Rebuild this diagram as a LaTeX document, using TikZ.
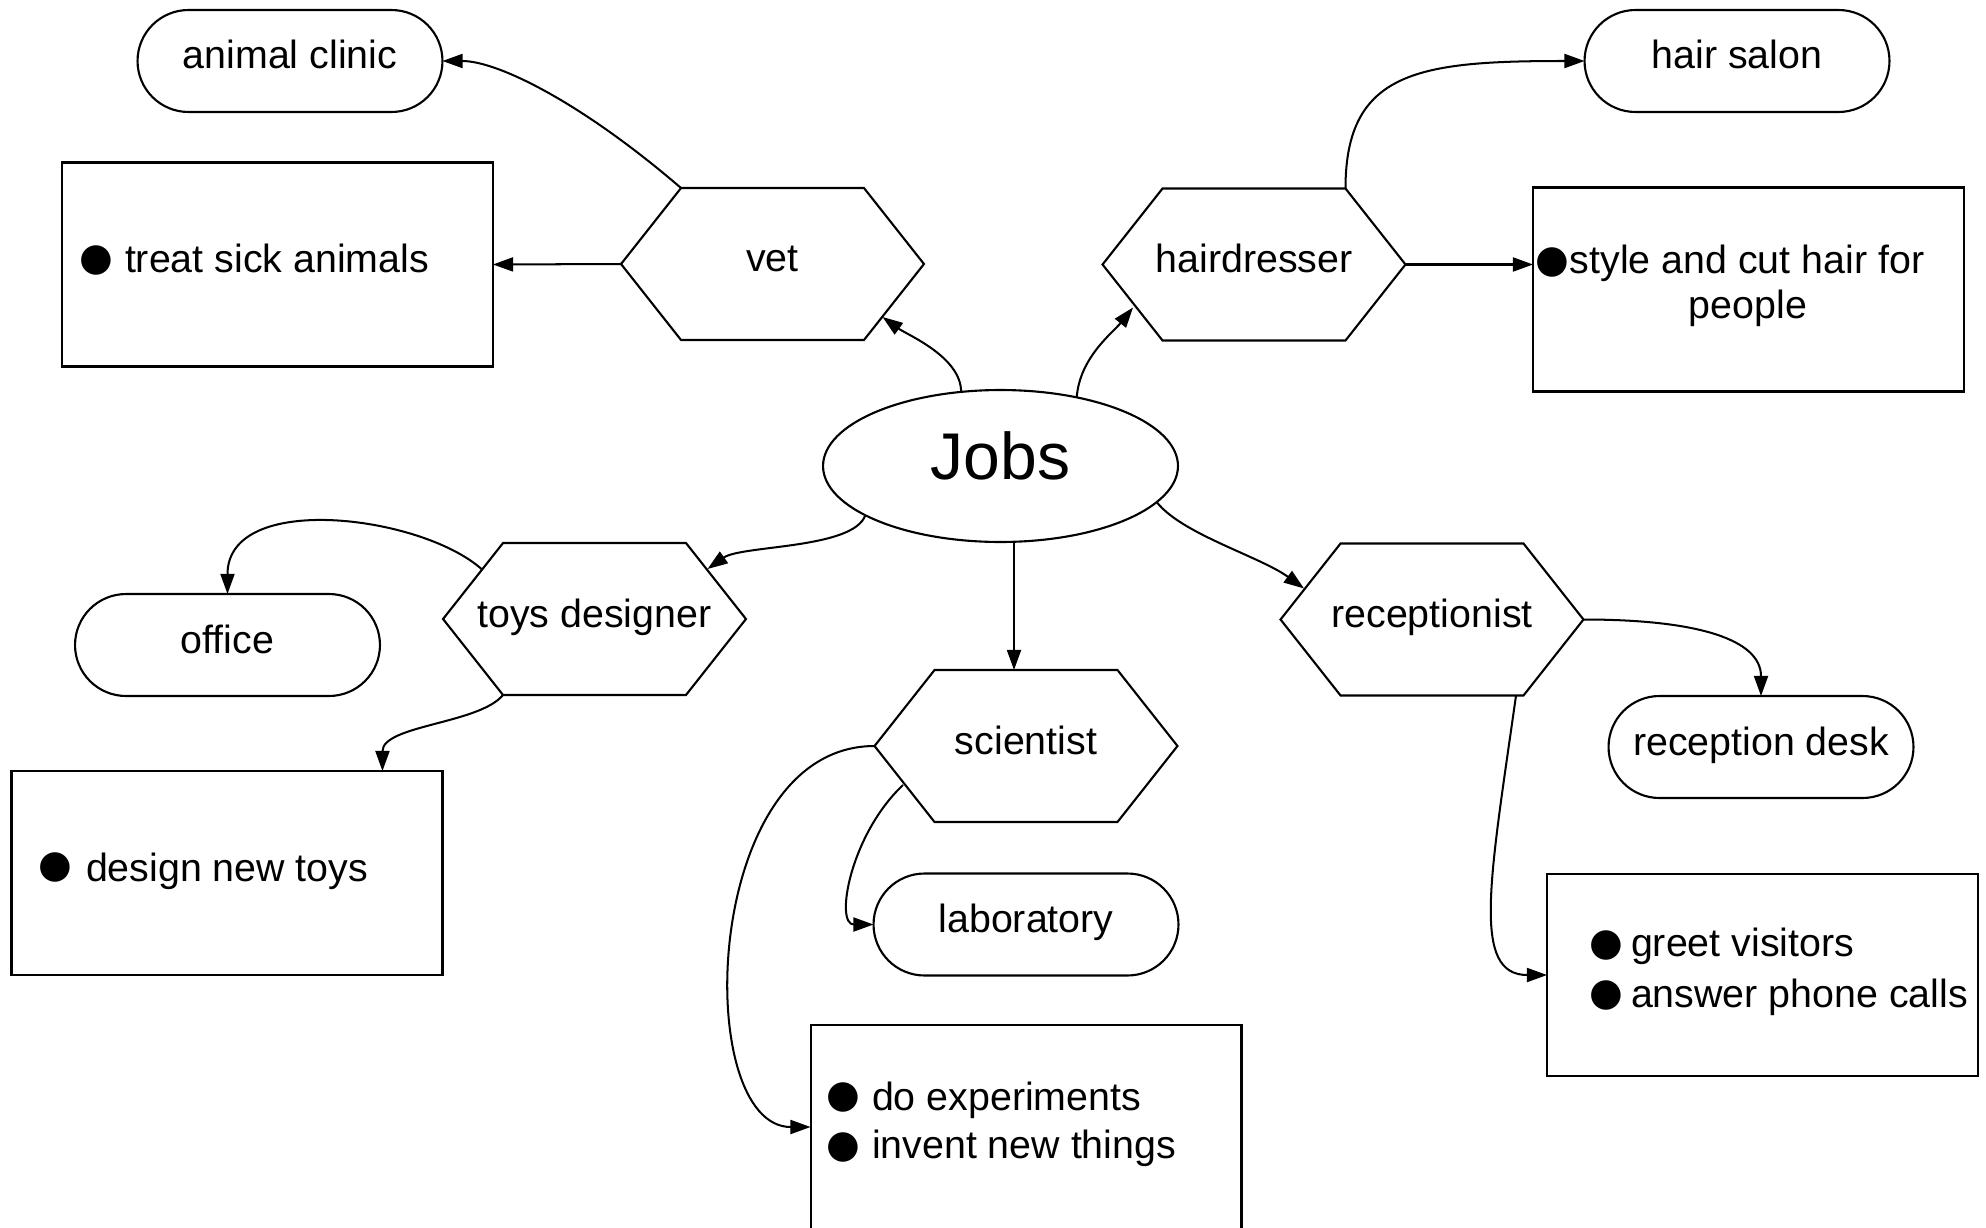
\documentclass[tikz,border=0pt]{standalone}
\usepackage{fontspec}
\setmainfont{Liberation Sans}
\newfontfamily\bulfont{DejaVu Sans}
\usetikzlibrary{arrows.meta,calc,shapes.geometric}
\newcommand{\hexdraw}[1]{\draw[line width=1.2pt] (#1.west) -- ([xshift=1.2cm]#1.north west) -- ([xshift=-1.2cm]#1.north east) -- (#1.east) -- ([xshift=-1.2cm]#1.south east) -- ([xshift=1.2cm]#1.south west) -- cycle;}
\begin{document}
\begin{tikzpicture}[x=0.02cm,y=-0.02cm,
  every node/.style={inner sep=0pt, outer sep=0pt},
  txt/.style={font=\fontsize{22.4}{26}\selectfont},
  lbl/.style={txt, text height=13.8pt, text depth=4.7pt},
  stadium/.style={lbl, draw, line width=1.2pt, rounded corners=1.02cm, minimum width=6.1cm, minimum height=2.04cm},
  hexnode/.style={lbl, minimum width=6.06cm, minimum height=3.04cm},
  box/.style={draw, line width=1.2pt, minimum width=8.62cm, minimum height=4.08cm},
  bul/.style={font=\bulfont\fontsize{22}{26}\selectfont},
  arr/.style={line width=1.15pt, -{Triangle[length=11.5pt,width=8pt]}},
]
\useasboundingbox (0,0) rectangle (1986,1227);
\fill[white] (0,0) rectangle (1986,1227);
\clip (0,0) rectangle (1986,1227);

% nodes
\node[stadium] (clinic) at (290,61) {animal clinic};
\node[box] (treat) at (277.5,264.5) {};
\node[hexnode] (vet) at (772.5,264) {vet};
\node[stadium] (salon) at (1737,61) {hair salon};
\node[hexnode] (hair) at (1254,264.5) {hairdresser};
\node[box] (style) at (1748.5,289.5) {};
\node[draw, ellipse, line width=1.2pt, minimum width=7.1cm, minimum height=3.04cm,
      font=\fontsize{37.6}{44}\selectfont, text height=23.3pt, text depth=7.9pt] (jobs) at (1000.5,466) {Jobs};
\node[hexnode] (toys) at (594.5,619) {toys designer};
\node[stadium] (office) at (227.5,645) {office};
\node[box] (design) at (227,873) {};
\node[hexnode] (sci) at (1026,746) {scientist};
\node[stadium] (lab) at (1026,924.5) {laboratory};
\node[box] (exp) at (1026,1127) {};
\node[hexnode] (rec) at (1432,619.5) {receptionist};
\node[stadium] (desk) at (1761,747) {reception desk};
\node[box, minimum height=4.04cm] (greet) at (1762.5,975) {};

\hexdraw{vet}
\hexdraw{hair}
\hexdraw{toys}
\hexdraw{sci}
\hexdraw{rec}

% box texts
\node[bul] (b1) at (96,260) {●};
\node[txt, anchor=base west] (t1) at (125,272) {treat sick animals};
\node[bul] (b2) at (1552,262) {●};
\node[txt, anchor=base] (t2a) at (1747,273) {style and cut hair for};
\node[txt, anchor=base] (t2b) at (1748,318) {people};
\node[bul] (b3) at (55.5,867) {●};
\node[txt, anchor=base west] (t3) at (86,881) {design new toys};
\node[bul] (b4) at (843.5,1097) {●};
\node[txt, anchor=base west] (t4a) at (872,1110) {do experiments};
\node[bul] (b5) at (843.5,1147.5) {●};
\node[txt, anchor=base west] (t4b) at (872,1158) {invent new things};
\node[bul] (b6) at (1606,945) {●};
\node[txt, anchor=base west] (t5a) at (1631,956) {greet visitors};
\node[bul] (b7) at (1606,995) {●};
\node[txt, anchor=base west] (t5b) at (1631,1007) {answer phone calls};

% connectors
\draw[arr] ([xshift=1.2cm]vet.north west) .. controls +(-100,-86) and +(55,0) .. (clinic.east);
\draw[arr] (vet.west) -- (treat.east);
\draw[arr] (jobs.118) .. controls +(0,-35) and +(25,18) .. ($(vet.center)+(110,53)$);
\draw[arr] ([xshift=-1.2cm]hair.north east) .. controls +(0,-118) and +(-165,0) .. (salon.west);
\draw[arr] (hair.east) -- (hair.east -| style.west);
\draw[arr] (jobs.42) .. controls +(3,-40) and +(-20,25) .. ($(hair.center)+(-121,43)$);
\draw[arr] (jobs.200) .. controls +(-12,34) and +(34,-24) .. ($(toys.center)+(113,-50)$);
\draw[arr] ($(toys.center)+(-113,-50)$) .. controls +(-61,-54) and +(0,-103) .. (office.north);
\draw[arr] ([xshift=1.2cm]toys.south west) .. controls +(-24,29) and +(0,-46) .. ($(design.north east)+(-60,0)$);
\path ($(jobs.south)+(13.5,0)$) coordinate (j1);
\draw[arr] (j1) -- (j1 |- sci.north);
\draw[arr] ($(sci.center)+(-123,39)$) .. controls +(-53,50) and +(-39,0) .. (lab.west);
\draw[arr] (sci.west) .. controls +(-174,0) and +(-119,0) .. (exp.west);
\draw[arr] (jobs.347) .. controls +(25,32) and +(-44,-32) .. ($(rec.center)+(-128,-31)$);
\draw[arr] (rec.east) .. controls +(116,0) and +(0,-56) .. (desk.north);
\draw[arr] ($(rec.south)+(84,0)$) .. controls +(-26,184) and +(-76,0) .. (greet.west);
\end{tikzpicture}
\end{document}
